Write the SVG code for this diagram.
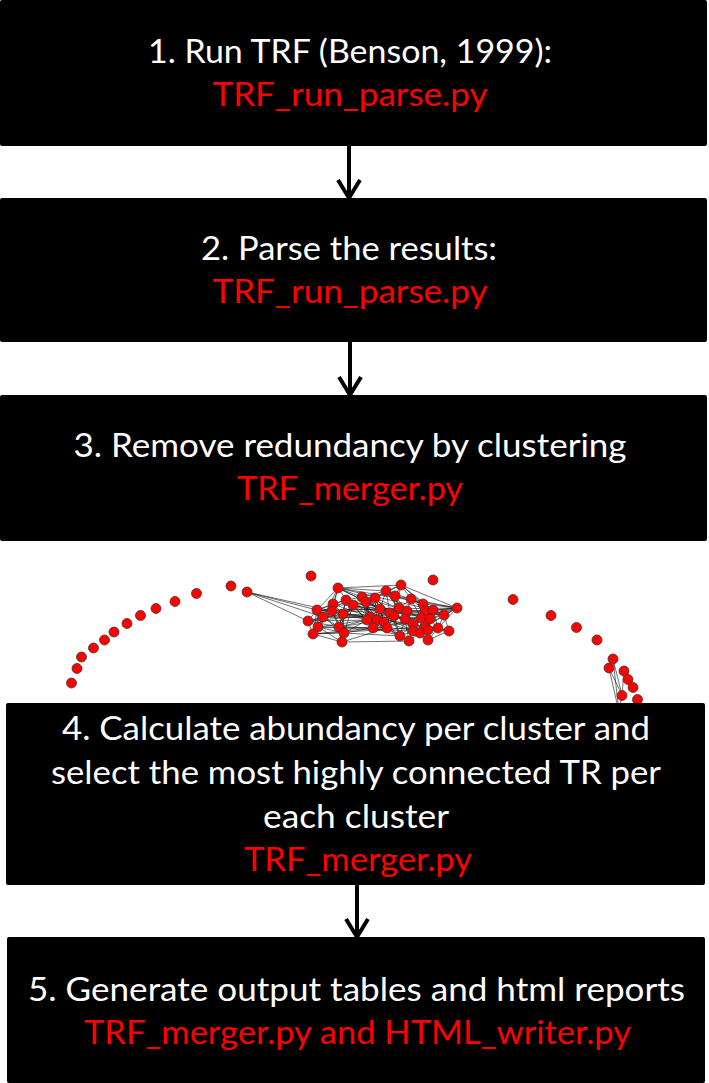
<svg xmlns="http://www.w3.org/2000/svg" width="709" height="1083" viewBox="0 0 709 1083">
  <style>
    .box { fill: #000; }
    .t { font-family: Lato, "Open Sans", "Liberation Sans", sans-serif; font-size: 32px; text-anchor: middle; }
    .w { fill: #fff; }
    .r { fill: #ff0000; }
    .edge { fill: none; stroke: #111; stroke-width: 0.8; stroke-opacity: 0.75; }
    .n { fill: #ff0000; stroke: #3a3a3a; stroke-width: 0.8; }
    .arrow { stroke: #000; stroke-width: 4; fill: none; marker-end: url(#head); }
  </style>
  <defs>
    <marker id="head" markerUnits="userSpaceOnUse" markerWidth="30" markerHeight="30" viewBox="0 0 30 30" refX="19" refY="15" orient="auto">
      <path d="M1,4 L19,15 L1,26" fill="none" stroke="#000" stroke-width="4" stroke-linejoin="miter"/>
    </marker>
  </defs>

  <g id="step1">
    <rect class="box" x="0" y="0" width="707" height="146" rx="2"/>
    <text class="t w" x="350" y="63" textLength="404" lengthAdjust="spacingAndGlyphs">1. Run TRF (Benson, 1999):</text>
    <text class="t r" x="350" y="106" textLength="275" lengthAdjust="spacingAndGlyphs">TRF_run_parse.py</text>
  </g>

  <g id="step2">
    <rect class="box" x="0" y="198" width="707" height="144" rx="2"/>
    <text class="t w" x="349" y="260" textLength="296" lengthAdjust="spacingAndGlyphs">2. Parse the results:</text>
    <text class="t r" x="350" y="303" textLength="275" lengthAdjust="spacingAndGlyphs">TRF_run_parse.py</text>
  </g>

  <g id="step3">
    <rect class="box" x="0" y="395" width="707" height="146" rx="2"/>
    <text class="t w" x="350" y="457" textLength="553" lengthAdjust="spacingAndGlyphs">3. Remove redundancy by clustering</text>
    <text class="t r" x="350" y="500" textLength="226" lengthAdjust="spacingAndGlyphs">TRF_merger.py</text>
  </g>

  <!-- cluster network figure -->
  <g id="network">
    <path class="edge" d="M247 592L317 610M247 592L308 621M247 592L323 617M247 592L332 611
      M338 588L401 585M338 588L386 591M338 588L362 597M338 588L346 600M338 588L333 604M338 588L317 610M338 588L332 611M338 588L323 617M338 588L380 609M338 588L390 613
      M401 585L386 591M401 585L395 596M401 585L411 599M401 585L423 604M401 585L375 598M401 585L394 616M401 585L433 610
      M386 591L395 596M386 591L375 598M386 591L362 597M386 591L380 609M386 591L399 608M386 591L390 613M386 591L411 599M386 591L405 619
      M395 596L411 599M395 596L399 608M395 596L407 611M395 596L394 616M395 596L423 604
      M362 597L375 598M362 597L366 602M362 597L346 600M362 597L353 605M362 597L380 609M362 597L370 617M362 597L367 620M362 597L377 620M362 597L390 613
      M375 598L366 602M375 598L380 609M375 598L390 613M375 598L394 616M375 598L377 620M375 598L384 622
      M366 602L353 605M366 602L380 609M366 602L370 617M366 602L367 620M366 602L373 628M366 602L343 614
      M346 600L353 605M346 600L333 604M346 600L332 611M346 600L343 614M346 600L339 627M346 600L317 610
      M353 605L343 614M353 605L370 617M353 605L367 620M353 605L339 627M353 605L344 633M353 605L373 628
      M333 604L317 610M333 604L332 611M333 604L323 617M333 604L343 614M333 604L318 627
      M411 599L423 604M411 599L399 608M411 599L407 611M411 599L425 611M411 599L433 610M411 599L421 618M411 599L457 608
      M423 604L457 608M423 604L425 611M423 604L433 610M423 604L444 615M423 604L430 619
      M457 608L433 610M457 608L444 615M457 608L430 619M457 608L438 628M457 608L425 611M457 608L421 618M457 608L425 627
      M317 610L332 611M317 610L308 621M317 610L323 617M317 610L318 627M317 610L313 634M317 610L343 614
      M332 611L323 617M332 611L343 614M332 611L318 627M332 611L339 627M332 611L344 633M332 611L313 634
      M380 609L399 608M380 609L390 613M380 609L370 617M380 609L394 616M380 609L377 620M380 609L384 622M380 609L387 628
      M399 608L407 611M399 608L390 613M399 608L394 616M399 608L405 619M399 608L413 624
      M407 611L425 611M407 611L421 618M407 611L405 619M407 611L413 624M407 611L413 631
      M425 611L433 610M425 611L444 615M425 611L421 618M425 611L430 619M425 611L425 627
      M433 610L444 615M433 610L430 619M433 610L438 628M433 610L425 627
      M390 613L394 616M390 613L405 619M390 613L384 622M390 613L387 628M390 613L400 636
      M308 621L323 617M308 621L318 627M308 621L313 634M308 621L343 614M308 621L339 627
      M323 617L343 614M323 617L318 627M323 617L339 627M323 617L313 634M323 617L344 633
      M343 614L370 617M343 614L339 627M343 614L344 633M343 614L367 620M343 614L342 642
      M370 617L367 620M370 617L377 620M370 617L373 628M370 617L387 628
      M394 616L405 619M394 616L384 622M394 616L387 628M394 616L400 636M394 616L413 624
      M444 615L430 619M444 615L438 628M444 615L449 631M444 615L425 627
      M421 618L405 619M421 618L430 619M421 618L413 624M421 618L425 627M421 618L413 631M421 618L420 633
      M405 619L413 624M405 619L400 636M405 619L413 631M405 619L409 641
      M430 619L425 627M430 619L438 628M430 619L428 630M430 619L428 640
      M367 620L377 620M367 620L373 628M367 620L339 627M367 620L344 633
      M377 620L384 622M377 620L373 628M377 620L387 628
      M384 622L387 628M384 622L400 636M384 622L373 628
      M318 627L339 627M318 627L313 634M318 627L344 633M318 627L342 642
      M339 627L344 633M339 627L342 642M339 627L373 628
      M413 624L413 631M413 624L420 633M413 624L409 641M413 624L400 636
      M425 627L438 628M425 627L420 633M425 627L428 630M425 627L428 640
      M438 628L449 631M438 628L428 630M438 628L428 640
      M449 631L428 630M449 631L428 640
      M313 634L344 633M313 634L342 642
      M344 633L342 642M344 633L373 628
      M373 628L387 628M373 628L400 636
      M387 628L400 636M387 628L409 641
      M400 636L409 641M400 636L413 631
      M413 631L420 633M413 631L409 641M413 631L428 640
      M420 633L428 630M420 633L428 640M420 633L409 641
      M428 630L428 640
      M333 604L444 615M317 610L457 608M332 611L449 631M323 617L421 618M338 588L433 610M346 600L430 619
      M308 621L425 611M313 634L425 627M318 627L413 631M342 642L409 641M343 614L438 628M353 605L420 633
      M339 627L457 608M317 610L444 615M401 585L457 608M338 588L457 608
      M353 605L405 619M366 602L413 624M370 617L421 618M373 628L430 619M362 597L407 611M377 620L413 631
      M384 622L425 627M387 628L428 630M367 620L400 636M375 598L421 618M380 609L425 611M390 613L413 624
      M343 614L394 616M339 627L387 628M344 633L400 636M332 611L380 609M323 617L370 617M318 627L367 620
      M313 634L373 628M308 621L377 620M342 642L387 628M353 605L394 616M346 600L390 613M333 604L384 622
      M613 659L622 695M609 668L622 695M624 671L622 695M609 668L619 712M613 659L619 712M622 695L619 712"/>

    <!-- outer arc, left -->
    <circle class="n" cx="71.5" cy="683" r="5"/>
    <circle class="n" cx="77" cy="668.5" r="5"/>
    <circle class="n" cx="81.5" cy="657" r="5"/>
    <circle class="n" cx="93.5" cy="648" r="5"/>
    <circle class="n" cx="104.5" cy="640" r="5"/>
    <circle class="n" cx="114" cy="632" r="5"/>
    <circle class="n" cx="127" cy="623.5" r="5"/>
    <circle class="n" cx="140.5" cy="615.5" r="5"/>
    <circle class="n" cx="156" cy="608.5" r="5"/>
    <circle class="n" cx="175" cy="601.5" r="5"/>
    <circle class="n" cx="196.5" cy="593.5" r="5"/>
    <circle class="n" cx="231" cy="586" r="5"/>
    <circle class="n" cx="247" cy="592" r="5"/>
    <!-- isolated -->
    <circle class="n" cx="311" cy="576" r="5"/>
    <circle class="n" cx="433" cy="580" r="5"/>
    <!-- outer arc, right -->
    <circle class="n" cx="513" cy="599.5" r="5"/>
    <circle class="n" cx="551" cy="615.5" r="5"/>
    <circle class="n" cx="576.5" cy="627.5" r="5"/>
    <circle class="n" cx="597" cy="640" r="5"/>
    <circle class="n" cx="613" cy="659" r="5"/>
    <circle class="n" cx="609" cy="668" r="5"/>
    <circle class="n" cx="624" cy="671" r="5"/>
    <circle class="n" cx="628" cy="679.5" r="5"/>
    <circle class="n" cx="633" cy="687.5" r="5"/>
    <circle class="n" cx="622" cy="695.5" r="5"/>
    <circle class="n" cx="637.5" cy="699.5" r="5"/>
    <!-- dense core -->
    <circle class="n" cx="338" cy="588" r="5"/>
    <circle class="n" cx="401" cy="585" r="5"/>
    <circle class="n" cx="386" cy="591" r="5"/>
    <circle class="n" cx="395" cy="596" r="5"/>
    <circle class="n" cx="362" cy="597" r="5"/>
    <circle class="n" cx="375" cy="598" r="5"/>
    <circle class="n" cx="366" cy="602" r="5"/>
    <circle class="n" cx="346" cy="600" r="5"/>
    <circle class="n" cx="353" cy="605" r="5"/>
    <circle class="n" cx="333" cy="604" r="5"/>
    <circle class="n" cx="411" cy="599" r="5"/>
    <circle class="n" cx="423" cy="604" r="5"/>
    <circle class="n" cx="457" cy="608" r="5"/>
    <circle class="n" cx="317" cy="610" r="5"/>
    <circle class="n" cx="332" cy="611" r="5"/>
    <circle class="n" cx="380" cy="609" r="5"/>
    <circle class="n" cx="399" cy="608" r="5"/>
    <circle class="n" cx="407" cy="611" r="5"/>
    <circle class="n" cx="425" cy="611" r="5"/>
    <circle class="n" cx="433" cy="610" r="5"/>
    <circle class="n" cx="390" cy="613" r="5"/>
    <circle class="n" cx="308" cy="621" r="5"/>
    <circle class="n" cx="323" cy="617" r="5"/>
    <circle class="n" cx="343" cy="614" r="5"/>
    <circle class="n" cx="370" cy="617" r="5"/>
    <circle class="n" cx="394" cy="616" r="5"/>
    <circle class="n" cx="444" cy="615" r="5"/>
    <circle class="n" cx="421" cy="618" r="5"/>
    <circle class="n" cx="405" cy="619" r="5"/>
    <circle class="n" cx="430" cy="619" r="5"/>
    <circle class="n" cx="367" cy="620" r="5"/>
    <circle class="n" cx="377" cy="620" r="5"/>
    <circle class="n" cx="384" cy="622" r="5"/>
    <circle class="n" cx="318" cy="627" r="5"/>
    <circle class="n" cx="339" cy="627" r="5"/>
    <circle class="n" cx="413" cy="624" r="5"/>
    <circle class="n" cx="425" cy="627" r="5"/>
    <circle class="n" cx="438" cy="628" r="5"/>
    <circle class="n" cx="449" cy="631" r="5"/>
    <circle class="n" cx="313" cy="634" r="5"/>
    <circle class="n" cx="344" cy="633" r="5"/>
    <circle class="n" cx="373" cy="628" r="5"/>
    <circle class="n" cx="387" cy="628" r="5"/>
    <circle class="n" cx="400" cy="636" r="5"/>
    <circle class="n" cx="413" cy="631" r="5"/>
    <circle class="n" cx="420" cy="633" r="5"/>
    <circle class="n" cx="428" cy="630" r="5"/>
    <circle class="n" cx="409" cy="641" r="5"/>
    <circle class="n" cx="428" cy="640" r="5"/>
    <circle class="n" cx="342" cy="642" r="5"/>
  </g>

  <g id="step4">
    <rect class="box" x="6" y="703" width="699" height="182" rx="2"/>
    <text class="t w" x="356" y="740" textLength="588" lengthAdjust="spacingAndGlyphs">4. Calculate abundancy per cluster and</text>
    <text class="t w" x="356" y="784" textLength="610" lengthAdjust="spacingAndGlyphs">select the most highly connected TR per</text>
    <text class="t w" x="356" y="828" textLength="186" lengthAdjust="spacingAndGlyphs">each cluster</text>
    <text class="t r" x="358" y="871" textLength="228" lengthAdjust="spacingAndGlyphs">TRF_merger.py</text>
  </g>

  <g id="step5">
    <rect class="box" x="7" y="937" width="698" height="146" rx="2"/>
    <text class="t w" x="356.5" y="1001" textLength="657" lengthAdjust="spacingAndGlyphs">5. Generate output tables and html reports</text>
    <text class="t r" x="357.5" y="1044" textLength="547" lengthAdjust="spacingAndGlyphs">TRF_merger.py and HTML_writer.py</text>
  </g>

  <g id="connectors">
    <line class="arrow" x1="349" y1="146" x2="349" y2="198"/>
    <line class="arrow" x1="350" y1="342" x2="350" y2="395"/>
    <line class="arrow" x1="357" y1="885" x2="357" y2="937"/>
  </g>
</svg>
